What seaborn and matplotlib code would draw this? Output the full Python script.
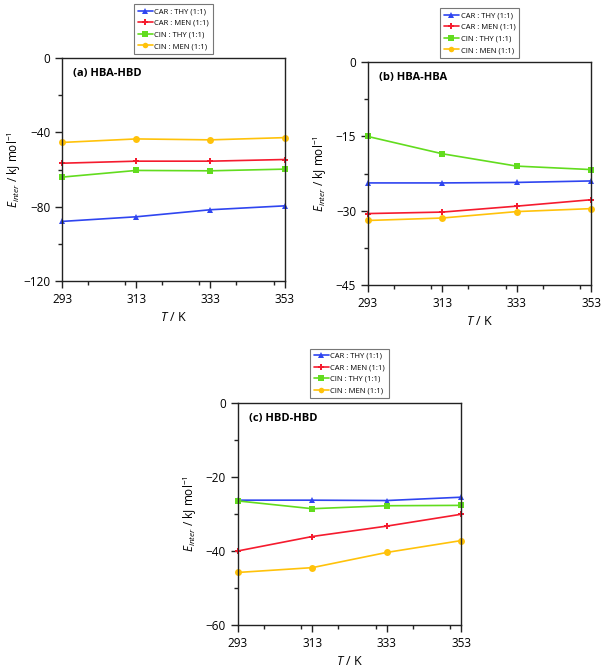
import pandas as pd
import seaborn as sns
import matplotlib.pyplot as plt
from matplotlib.ticker import MultipleLocator

temps = [293, 313, 333, 353]
systems = ['CAR : THY (1:1)', 'CAR : MEN (1:1)', 'CIN : THY (1:1)', 'CIN : MEN (1:1)']

# (a) HBA-HBD
hba_hbd = {
    'CAR : THY (1:1)': [-88.0, -85.5, -81.7, -79.6],
    'CAR : MEN (1:1)': [-56.6, -55.5, -55.5, -54.6],
    'CIN : THY (1:1)': [-64.1, -60.5, -60.7, -59.8],
    'CIN : MEN (1:1)': [-45.4, -43.5, -44.0, -42.8],
}
# (b) HBA-HBA
hba_hba = {
    'CAR : THY (1:1)': [-24.4, -24.4, -24.3, -24.0],
    'CAR : MEN (1:1)': [-30.6, -30.3, -29.1, -27.8],
    'CIN : THY (1:1)': [-15.0, -18.5, -21.0, -21.7],
    'CIN : MEN (1:1)': [-32.0, -31.5, -30.2, -29.6],
}
# (c) HBD-HBD
hbd_hbd = {
    'CAR : THY (1:1)': [-26.3, -26.3, -26.4, -25.5],
    'CAR : MEN (1:1)': [-40.0, -36.1, -33.3, -30.1],
    'CIN : THY (1:1)': [-26.5, -28.6, -27.8, -27.7],
    'CIN : MEN (1:1)': [-45.8, -44.5, -40.4, -37.2],
}

colors = ['#2F45F0', '#F51B2E', '#62DC1E', '#FFC20A']
markers = ['^', 'P', 's', 'o']

sns.set_style('ticks')
plt.rcParams['font.family'] = ['Open Sans', 'DejaVu Sans']
plt.rcParams['mathtext.fontset'] = 'custom'
plt.rcParams['mathtext.rm'] = 'Open Sans'
plt.rcParams['mathtext.it'] = 'Open Sans:italic'
plt.rcParams['text.color'] = 'black'
plt.rcParams['axes.labelcolor'] = 'black'
plt.rcParams['xtick.color'] = 'black'
plt.rcParams['ytick.color'] = 'black'


def to_long(d):
    rows = []
    for s in systems:
        for t, v in zip(temps, d[s]):
            rows.append({'T': t, 'E': v, 'system': s})
    return pd.DataFrame(rows)


def draw(ax, d, title, ymin, step):
    df = to_long(d)
    sns.lineplot(data=df, x='T', y='E', hue='system', style='system',
                 hue_order=systems, style_order=systems,
                 palette=colors, markers=markers, dashes=False,
                 linewidth=1.2, markersize=5, markeredgewidth=0,
                 clip_on=False, ax=ax)
    ax.set_xlim(293, 353)
    ax.set_ylim(ymin, 0)
    ax.set_xticks(temps)
    ax.xaxis.set_minor_locator(MultipleLocator(10))
    ax.yaxis.set_major_locator(MultipleLocator(step))
    ax.yaxis.set_minor_locator(MultipleLocator(step / 2))
    ax.tick_params(which='both', direction='out', labelsize=8.5, width=1, color='#222222')
    ax.tick_params(which='major', length=5)
    ax.tick_params(which='minor', length=3)
    for sp in ax.spines.values():
        sp.set_color('#222222')
        sp.set_linewidth(1.0)
    ax.set_xlabel(r'$T$ / K', fontsize=9)
    ax.set_ylabel(r'$E_{inter}$ / kJ mol$^{-1}$', fontsize=8.5)
    ax.yaxis.set_label_coords(-0.175, 0.5)
    ax.text(0.05, 0.93, title, transform=ax.transAxes, fontsize=8,
            fontweight='bold', va='center', ha='left')
    sns.move_legend(ax, 'lower center', bbox_to_anchor=(0.5, 1.02), title=None,
                    fontsize=5.5, frameon=True, fancybox=False, edgecolor='#555555',
                    handlelength=2.0, handletextpad=0.2, borderpad=0.5,
                    labelspacing=0.55, borderaxespad=0)
    leg = ax.get_legend()
    leg.get_frame().set_linewidth(0.8)
    for h in leg.legend_handles:
        h.set_linewidth(1.2)
        h.set_markersize(4)


fig = plt.figure(figsize=(6.02, 6.70), dpi=100)
ax_a = fig.add_axes([0.103, 0.581, 0.370, 0.332])
ax_b = fig.add_axes([0.611, 0.575, 0.371, 0.332])
ax_c = fig.add_axes([0.395, 0.067, 0.371, 0.332])

draw(ax_a, hba_hbd, '(a) HBA-HBD', -120, 40)
draw(ax_b, hba_hba, '(b) HBA-HBA', -45, 15)
draw(ax_c, hbd_hbd, '(c) HBD-HBD', -60, 20)

fig.savefig('out.png', dpi=100)
